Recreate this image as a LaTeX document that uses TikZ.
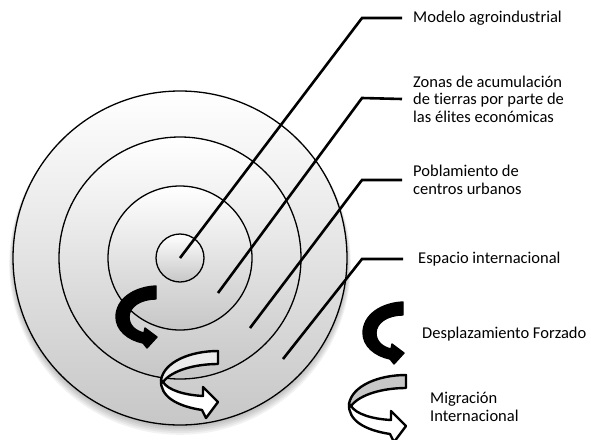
\documentclass[tikz,border=0pt]{standalone}
\usepackage{fontspec}
\setmainfont{Carlito}[Ligatures=NoCommon]
\begin{document}
\begin{tikzpicture}[x=1pt,y=-1pt,
  ring/.style={draw=black,line width=1.3pt,top color=white,bottom color=black!22},
  leader/.style={draw=black,line width=2.6pt,line join=miter},
  lab/.style={anchor=west,inner sep=0pt,align=left,font=\fontsize{16.5}{17.5}\selectfont},
  pics/curvedblack/.style={code={
    \filldraw[black,line width=1.4pt,line join=round]
      (40,0) .. controls (18,1) and (0,13) .. (0,31)
      .. controls (0,44) and (12,54) .. (27,57) -- (31,62) -- (41,51) -- (29,42) -- (28,47)
      .. controls (19,45) and (13,39) .. (13,31)
      .. controls (13,21) and (24,13) .. (40,13) -- cycle;}},
  pics/curvedwhite/.style={code={
    \filldraw[fill=#1,draw=black,line width=2.4pt,line join=round]
      (1,30) .. controls (4,12) and (30,1) .. (58,1) -- (58,14)
      .. controls (36,14) and (12,20) .. (3,32) -- cycle;
    \filldraw[fill=white,draw=black,line width=2.4pt,line join=round]
      (1,30) .. controls (0,46) and (16,56) .. (42,60) -- (46,68) -- (58,52) -- (43,37) -- (43,46)
      .. controls (24,45) and (8,40) .. (3,32) -- cycle;}}
]
\path[use as bounding box] (0,0) rectangle (591,439);
% soft shadow
\foreach \k in {1,...,6}
  \fill[black,opacity=0.05] (180,258+\k) circle[radius=166pt+\k pt*0.8];
\path[ring] (180,258) circle[radius=167pt];
\path[ring] (180,258) circle[radius=121pt];
\path[ring] (180,258) circle[radius=72pt];
\path[ring] (180,258) circle[radius=24pt];
\coordinate (c0) at (180,258);
\coordinate (c1) at (218,293);
\coordinate (c2) at (250,328);
\coordinate (c3) at (283,359);
\coordinate (k0) at (362,18);
\coordinate (k1) at (362,98);
\coordinate (k2) at (362,180);
\coordinate (k3) at (362,259);
\node[lab] (l0) at (413,18) {Modelo agroindustrial};
\node[lab] (l1) at (413,99) {Zonas de acumulación\\de tierras por parte de\\las élites económicas};
\node[lab] (l2) at (413,180) {Poblamiento de\\centros urbanos};
\node[lab] (l3) at (418,259) {Espacio internacional};
\node[lab] (l4) at (422,334) {Desplazamiento Forzado};
\node[lab] (l5) at (430,407) {Migración\\Internacional};
\draw[leader] (c0) -- (k0) -- ([xshift=-11pt]l0.west);
\draw[leader] (c1) -- (k1) -- ([xshift=-11pt]l1.west);
\draw[leader] (c2) -- (k2) -- ([xshift=-11pt]l2.west);
\draw[leader] (c3) -- (k3) -- ([xshift=-15pt]l3.west);
\pic at (116,286) {curvedblack};
\pic at (363,302) {curvedblack};
\pic at (160,350) {curvedwhite=white!92!black};
\pic at (348,374) {curvedwhite=black!22};
\end{tikzpicture}
\end{document}
